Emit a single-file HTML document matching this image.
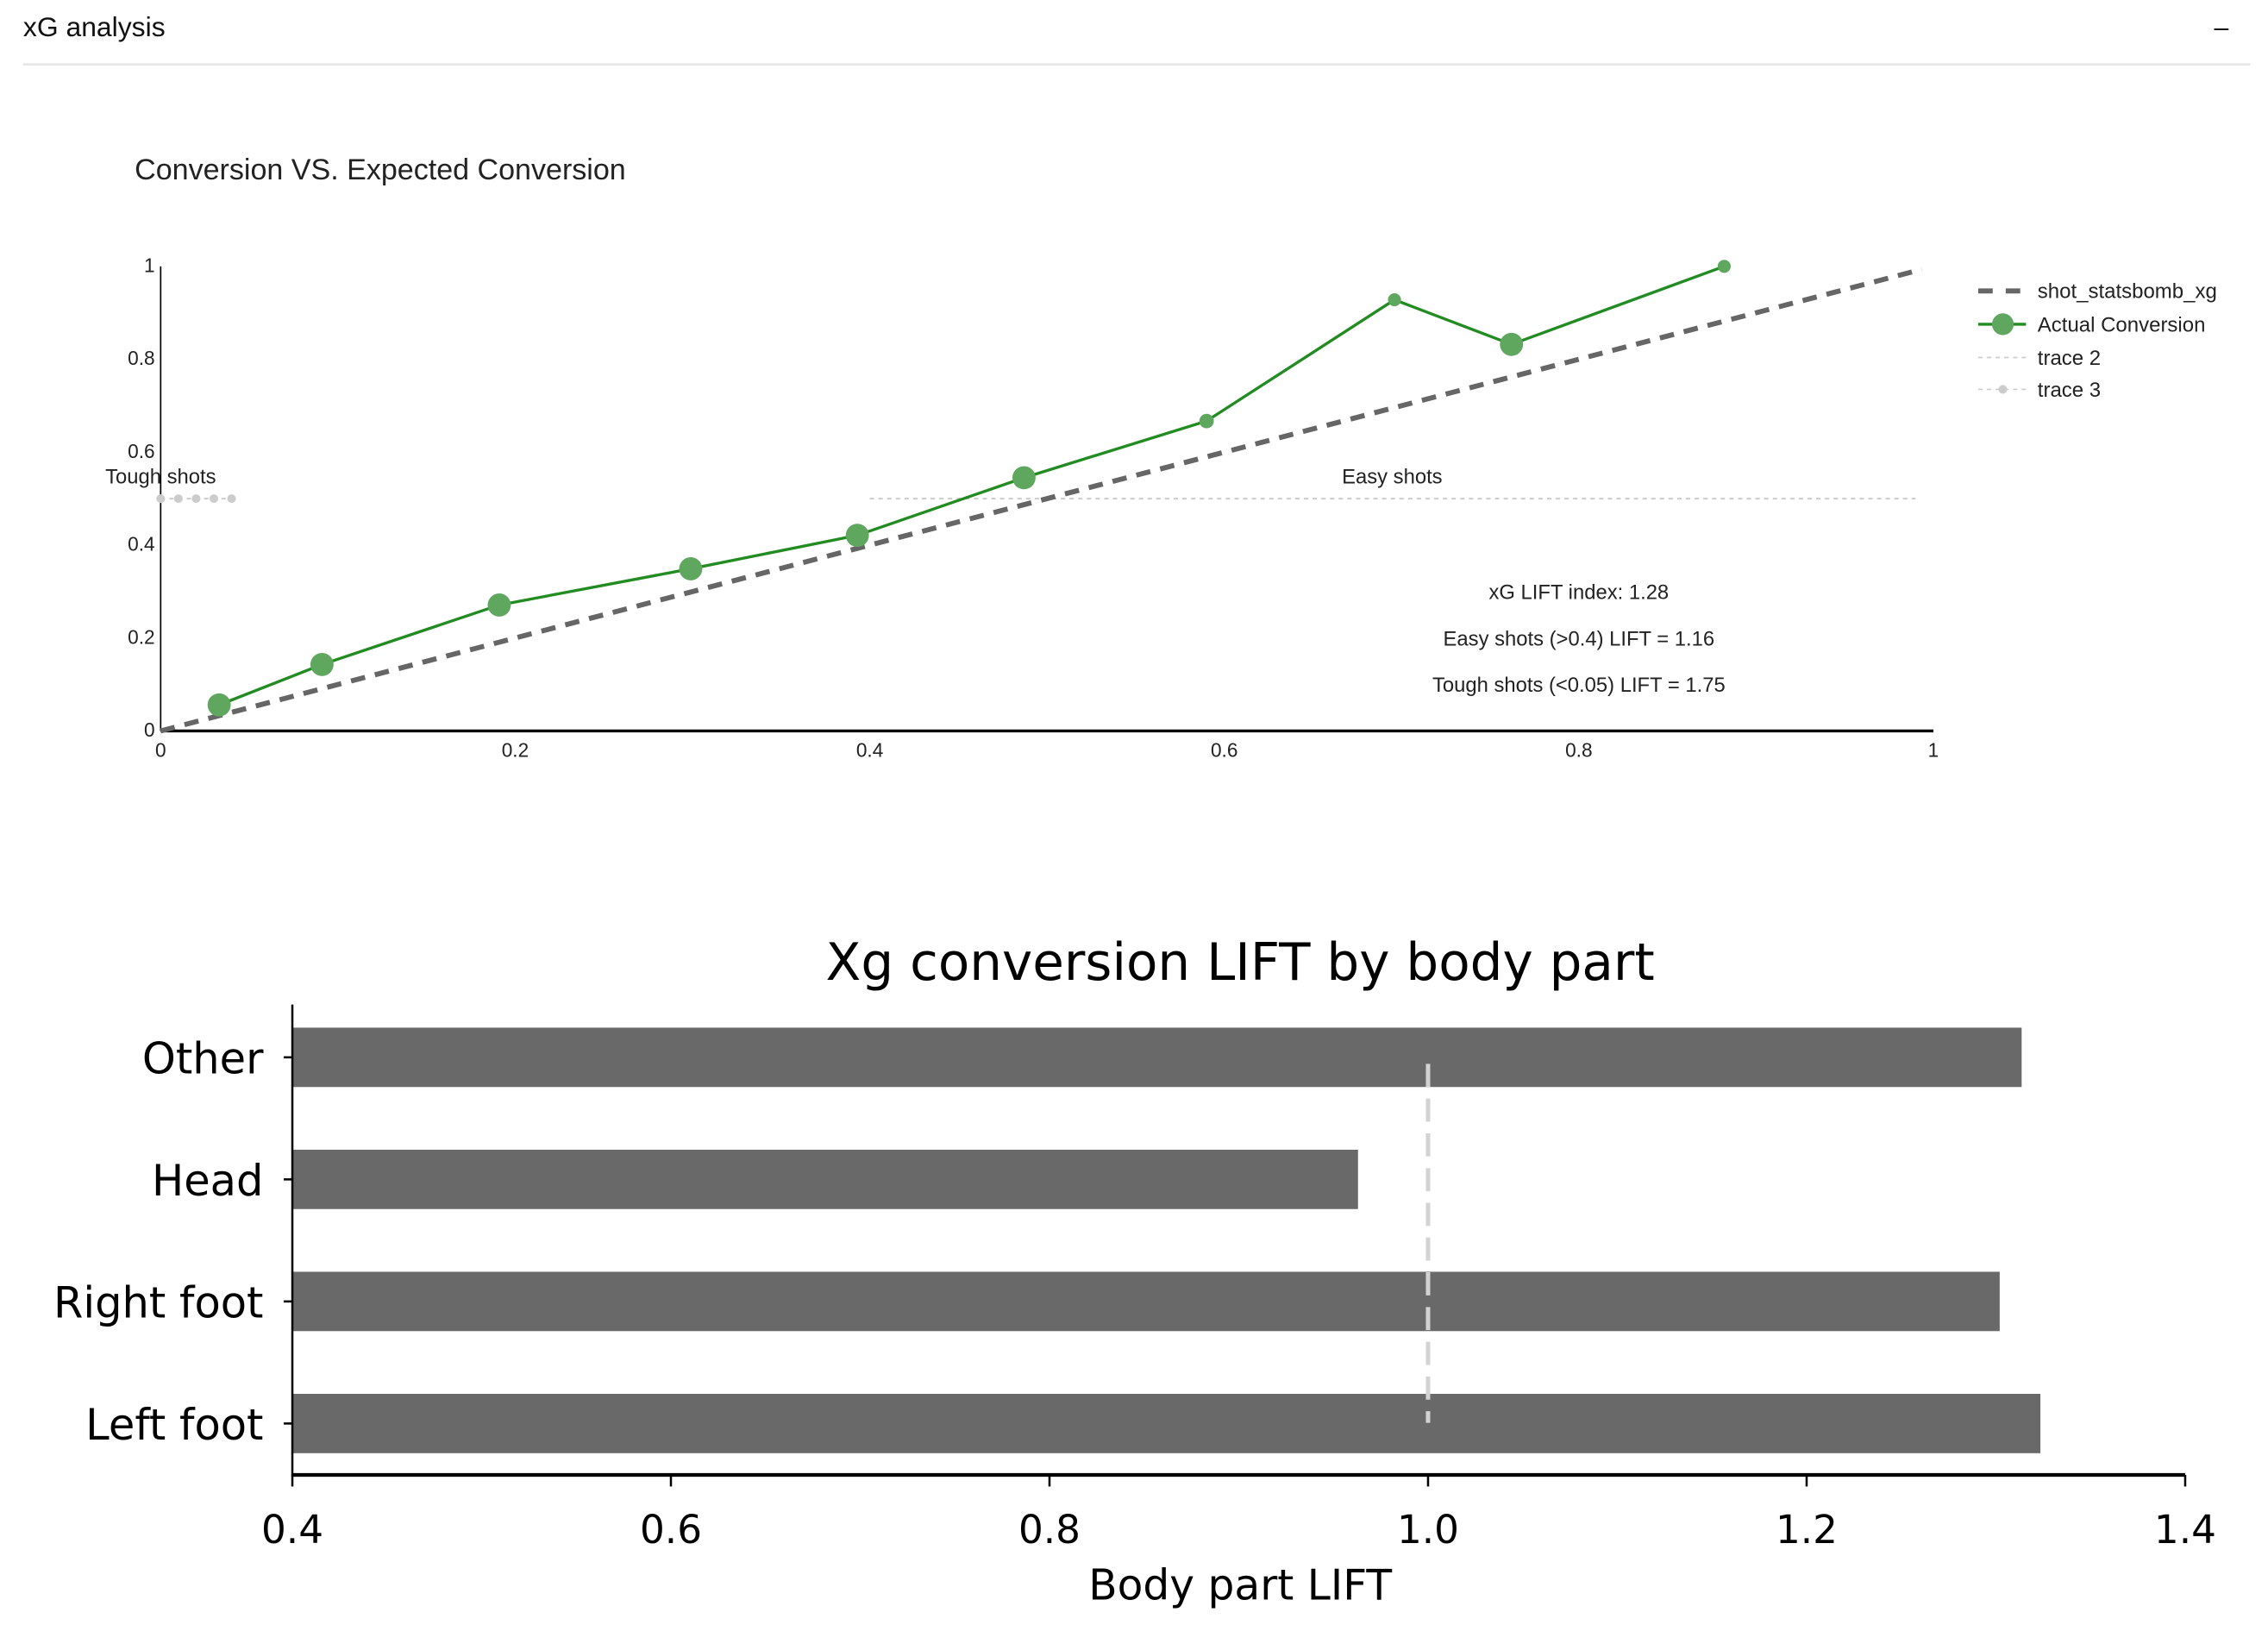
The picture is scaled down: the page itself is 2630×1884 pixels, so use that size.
<!DOCTYPE html>
<html><head><meta charset="utf-8"><style>
html,body{margin:0;padding:0;background:#fff;}
svg{display:block;}
</style></head><body>
<svg id="root" width="2630" height="1884" viewBox="0 0 1567.2 1122.7" xmlns="http://www.w3.org/2000/svg" font-family="'Liberation Sans', Arial, sans-serif">
<text x="16" y="25" font-size="19" fill="#111">xG analysis</text>
<text x="1535" y="25" font-size="18" fill="#111" text-anchor="middle">–</text>
<line x1="16" y1="44.5" x2="1555" y2="44.5" stroke="#e5e5e5" stroke-width="1.5"/>
<text x="93" y="124" font-size="20.3" fill="#222">Conversion VS. Expected Conversion</text>
<g id="topChart"></g>
<g id="bottomChart"></g>
</svg>
<script>
// ---- Top chart data ----
const xgBins = [0.033, 0.091, 0.191, 0.299, 0.393, 0.487, 0.590, 0.696, 0.762, 0.882];
const actualConv = [0.056, 0.143, 0.271, 0.349, 0.421, 0.545, 0.667, 0.928, 0.832, 1.0];
const markerSizes = [8, 8, 8, 8, 8, 8, 5, 4.5, 8, 4.5];
const diagX = [0, 1];
const easyX = [0.4, 0.99];
const toughX = [0, 0.01, 0.02, 0.03, 0.04];
const refY = 0.5;
const topTicks = [0, 0.2, 0.4, 0.6, 0.8, 1];
const topTickLabels = ['0', '0.2', '0.4', '0.6', '0.8', '1'];
const liftNotes = ['xG LIFT index: 1.28', 'Easy shots (>0.4) LIFT = 1.16', 'Tough shots (<0.05) LIFT = 1.75'];
// ---- Bottom chart data ----
const bodyParts = ['Other', 'Head', 'Right foot', 'Left foot'];
const liftValues = [1.3136, 0.963, 1.302, 1.3235];
const botTicks = [0.4, 0.6, 0.8, 1.0, 1.2, 1.4];
const botTickLabels = ['0.4', '0.6', '0.8', '1.0', '1.2', '1.4'];
const baseline = 1.0;

const NS = 'http://www.w3.org/2000/svg';
function mk(parent, tag, attrs, text) {
  const e = document.createElementNS(NS, tag);
  for (const k in attrs) e.setAttribute(k, attrs[k]);
  if (text !== undefined) e.textContent = text;
  parent.appendChild(e);
  return e;
}
const X = v => 111 + v * 1225;
const Y = v => 505 - v * 321;
const FS = 14.2;
const topG = document.getElementById('topChart');
let el;
el = mk(topG, 'line', {x1: X(0), y1: Y(0), x2: X(0), y2: Y(1), stroke: '#000', 'stroke-width': 1});


el = mk(topG, 'line', {x1: X(0), y1: Y(0), x2: X(1), y2: Y(0), stroke: '#000', 'stroke-width': 2});


topTicks.forEach((t, i) => {
  el = mk(topG, 'text', {x: 107, y: Y(t) + 4, 'font-size': 13.5, 'text-anchor': 'end', fill: '#222'}, topTickLabels[i]);
  
  
  el = mk(topG, 'text', {x: X(t), y: 523, 'font-size': 13.5, 'text-anchor': 'middle', fill: '#222'}, topTickLabels[i]);
  
  
});
el = mk(topG, 'line', {x1: X(easyX[0]), y1: Y(refY), x2: X(easyX[1]), y2: Y(refY), stroke: '#ccc', 'stroke-width': 1.2, 'stroke-dasharray': '3,3'});


el = mk(topG, 'polyline', {points: toughX.map(x => X(x) + ',' + Y(refY)).join(' '), fill: 'none', stroke: '#ccc', 'stroke-width': 1.2, 'stroke-dasharray': '3,3'});


toughX.forEach(x => {
  el = mk(topG, 'circle', {cx: X(x), cy: Y(refY), r: 3, fill: '#ccc'});
  
  
});
el = mk(topG, 'line', {x1: X(diagX[0]), y1: Y(diagX[0]), x2: X(diagX[1]) - 8, y2: Y(diagX[1] - 8 / 1225), stroke: '#666', 'stroke-width': 3.5, 'stroke-dasharray': '10,7'});


el = mk(topG, 'polyline', {points: xgBins.map((x, i) => X(x) + ',' + Y(actualConv[i])).join(' '), fill: 'none', stroke: '#228b22', 'stroke-width': 2});


xgBins.forEach((x, i) => {
  el = mk(topG, 'circle', {cx: X(x), cy: Y(actualConv[i]), r: markerSizes[i], fill: '#5fa75f'});
  
  
});
el = mk(topG, 'text', {x: 111, y: 334, 'font-size': FS, 'text-anchor': 'middle', fill: '#222'}, 'Tough shots');


el = mk(topG, 'text', {x: 962, y: 334, 'font-size': FS, 'text-anchor': 'middle', fill: '#222'}, 'Easy shots');


liftNotes.forEach((t, i) => {
  el = mk(topG, 'text', {x: 1091, y: 414 + i * 32, 'font-size': FS, 'text-anchor': 'middle', fill: '#222'}, t);
  
  
});
const lg = mk(topG, 'g', {});


el = mk(lg, 'line', {x1: 1367, y1: 201, x2: 1400, y2: 201, stroke: '#666', 'stroke-width': 3.5, 'stroke-dasharray': '10,9'});


el = mk(lg, 'line', {x1: 1367, y1: 224, x2: 1400, y2: 224, stroke: '#228b22', 'stroke-width': 2});


el = mk(lg, 'circle', {cx: 1384, cy: 224, r: 7.5, fill: '#5fa75f'});


el = mk(lg, 'line', {x1: 1367, y1: 247, x2: 1400, y2: 247, stroke: '#ccc', 'stroke-width': 1, 'stroke-dasharray': '3,3'});


el = mk(lg, 'line', {x1: 1367, y1: 269, x2: 1400, y2: 269, stroke: '#ccc', 'stroke-width': 1, 'stroke-dasharray': '3,3'});


el = mk(lg, 'circle', {cx: 1384, cy: 269, r: 3, fill: '#ccc'});


['shot_statsbomb_xg', 'Actual Conversion', 'trace 2', 'trace 3'].forEach((t, i) => {
  el = mk(lg, 'text', {x: 1408, y: [206, 229, 252, 274][i], 'font-size': 14.3, fill: '#222'}, t);
  
  
});

// ---- bottom chart ----
const BX = v => 202 + (v - 0.4) * 1308;
const bandTop = 710, bandStep = 84.33, barH = 41;
const botG = document.getElementById('bottomChart');
const DJ = "'DejaVu Sans', sans-serif";
el = mk(botG, 'text', {x: 857, y: 677, 'font-size': 35.5, 'text-anchor': 'middle', fill: '#000', 'font-family': DJ}, 'Xg conversion LIFT by body part');


bodyParts.forEach((b, i) => {
  const y = bandTop + i * bandStep;
  el = mk(botG, 'rect', {x: BX(0.4), y: y, width: BX(liftValues[i]) - BX(0.4), height: barH, fill: '#696969'});
  
  
  el = mk(botG, 'line', {x1: 196, y1: y + barH / 2, x2: 202, y2: y + barH / 2, stroke: '#000', 'stroke-width': 1.5});
  
  
  el = mk(botG, 'text', {x: 182, y: y + barH / 2 + 11, 'font-size': 29.5, 'text-anchor': 'end', fill: '#000', 'font-family': DJ}, b);
  
  
});
el = mk(botG, 'line', {x1: BX(baseline), y1: 735, x2: BX(baseline), y2: 983, stroke: '#d3d3d3', 'stroke-width': 3, 'stroke-dasharray': '16,8'});


el = mk(botG, 'line', {x1: 202, y1: 694, x2: 202, y2: 1020, stroke: '#000', 'stroke-width': 1.5});


el = mk(botG, 'line', {x1: 202, y1: 1019, x2: 1510, y2: 1019, stroke: '#000', 'stroke-width': 2.5});


botTicks.forEach((t, i) => {
  el = mk(botG, 'line', {x1: BX(t), y1: 1019, x2: BX(t), y2: 1027, stroke: '#000', 'stroke-width': 1.5});
  
  
  el = mk(botG, 'text', {x: BX(t), y: 1066, 'font-size': 27, 'text-anchor': 'middle', fill: '#000', 'font-family': DJ}, botTickLabels[i]);
  
  
});
el = mk(botG, 'text', {x: 857, y: 1105, 'font-size': 29, 'text-anchor': 'middle', fill: '#000', 'font-family': DJ}, 'Body part LIFT');


</script>
</body></html>
